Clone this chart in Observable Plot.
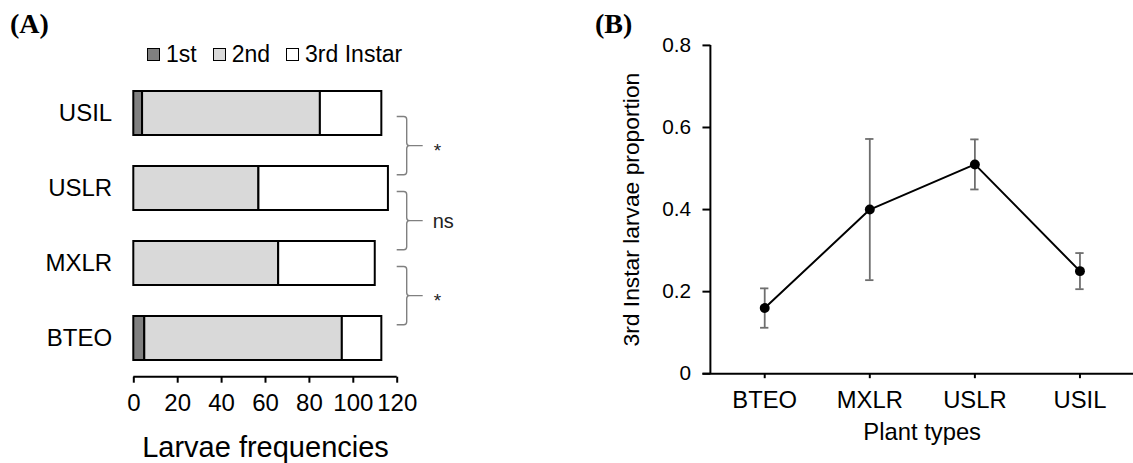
<!DOCTYPE html>
<html><head><meta charset="utf-8">
<script src="https://cdn.jsdelivr.net/npm/d3@7"></script>
<script src="https://cdn.jsdelivr.net/npm/@observablehq/plot@0.6"></script>
<style>
html,body{margin:0;padding:0;background:#fff;overflow:hidden}
#wrap{position:relative;width:1133px;height:463px;overflow:hidden;font-family:"Liberation Sans",Arial,sans-serif;color:#000}
.panel{position:absolute;top:0}
.tag{position:absolute;font-family:"Liberation Serif","Times New Roman",serif;font-weight:bold;font-size:28px;line-height:1}
#legend{position:absolute;left:147px;top:43px;display:flex;align-items:center;font-size:23px;line-height:1}
.item{display:flex;align-items:center;margin-right:16px}
.sw{width:11px;height:11px;border:1.3px solid #000;display:inline-block;margin-right:6px}
</style></head><body>
<div id="wrap">
  <div class="tag" style="left:10px;top:10px">(A)</div>
  <div class="tag" style="left:595px;top:10px">(B)</div>
  <div id="panelA" class="panel" style="left:0"></div>
  <div id="panelB" class="panel" style="left:560px"></div>
  <div id="legend"></div>
</div>
<script>
// ---------- Panel A data ----------
const plantsA = ["USIL", "USLR", "MXLR", "BTEO"];
const stages = ["1st", "2nd", "3rd Instar"];
const stageColors = ["#808080", "#d9d9d9", "#ffffff"];
const first = [4, 0, 0, 5];
const second = [81, 57, 66, 90];
const third = [28, 59, 44, 18];
const xTicksA = [0, 20, 40, 60, 80, 100, 120];
const brackets = [["USIL", "USLR", "*"], ["USLR", "MXLR", "ns"], ["MXLR", "BTEO", "*"]];

// ---------- Panel B data ----------
const plantsB = ["BTEO", "MXLR", "USLR", "USIL"];
const propB = [0.16, 0.40, 0.51, 0.25];
const seB = [0.048, 0.172, 0.061, 0.044];
const yTicksB = [0, 0.2, 0.4, 0.6, 0.8];

const FONT = '"Liberation Sans", Arial, sans-serif';

// legend
const legend = document.getElementById("legend");
stages.forEach((s, i) => {
  const it = document.createElement("div");
  it.className = "item";
  const sw = document.createElement("span");
  sw.className = "sw";
  sw.style.background = stageColors[i];
  it.appendChild(sw);
  it.appendChild(document.createTextNode(s));
  legend.appendChild(it);
});

const dataA = [];
plantsA.forEach((p, i) => {
  [first[i], second[i], third[i]].forEach((n, j) => dataA.push({plant: p, stage: stages[j], n}));
});

function xAxisLineA(index, scales) {
  const g = d3.create("svg:g");
  const [a, b] = scales.x.range();
  const r = scales.y.range();
  const yy = Math.max(r[0], r[1]);
  g.append("line").attr("x1", a).attr("x2", b).attr("y1", yy).attr("y2", yy)
    .attr("stroke", "#000").attr("stroke-width", 2);
  return g.node();
}

function bracesMark(index, scales) {
  const {x, y} = scales;
  const bw = y.bandwidth();
  const x0 = x.range()[1];
  const x1 = x0 + 10, x2 = x0 + 26;
  const g = d3.create("svg:g");
  brackets.forEach(([a, b, lab]) => {
    const yT = y(a) + 0.58 * bw;
    const yB = y(b) + 0.2 * bw;
    const yM = (yT + yB) / 2;
    const r = 3;
    const d = `M${x0},${yT} L${x1 - r},${yT} Q${x1},${yT} ${x1},${yT + r} L${x1},${yM - r} Q${x1},${yM} ${x1 + r},${yM} L${x2},${yM} M${x1 + r},${yM} Q${x1},${yM} ${x1},${yM + r} L${x1},${yB - r} Q${x1},${yB} ${x1 - r},${yB} L${x0},${yB}`;
    g.append("path").attr("d", d).attr("fill", "none").attr("stroke", "#808080").attr("stroke-width", 1.4);
    g.append("text")
      .attr("x", lab === "*" ? x0 + 37 : x0 + 36)
      .attr("y", yM + (lab === "*" ? 11 : 7))
      .attr("text-anchor", "start")
      .attr("font-size", lab === "*" ? 19 : 20).attr("fill", "#222")
      .attr("font-family", FONT).text(lab);
  });
  return g.node();
}

const plotA = Plot.plot({
  width: 470,
  height: 463,
  marginLeft: 133.3,
  marginRight: 73.3,
  marginTop: 74.3,
  marginBottom: 86.3,
  style: {fontFamily: FONT, fontSize: "23px", color: "#000", background: "transparent", overflow: "visible"},
  x: {domain: [0, 120]},
  y: {domain: plantsA, paddingInner: 0.42, paddingOuter: 0.21},
  color: {domain: stages, range: stageColors},
  marks: [
    Plot.barX(dataA, {x: "n", y: "plant", fill: "stage", stroke: "#000", strokeWidth: 2}),
    xAxisLineA,
    Plot.axisX({ticks: xTicksA, tickSize: 6, tickPadding: 11, strokeWidth: 2, fontSize: 24, label: null}),
    Plot.axisX({ticks: [], tickSize: 0, label: "Larvae frequencies", labelAnchor: "center", labelOffset: 80, labelArrow: "none", fontSize: 29, dx: 6}),
    Plot.axisY({tickSize: 0, tickPadding: 21.6, fontSize: 24, label: null}),
    bracesMark
  ]
});
document.getElementById("panelA").appendChild(plotA);

// ---------- Panel B ----------
const dataB = plantsB.map((p, i) => ({plant: p, prop: propB[i], lo: propB[i] - seB[i], hi: propB[i] + seB[i]}));

function yAxisLineB(index, scales) {
  const g = d3.create("svg:g");
  const xx = scales.x.range()[0];
  g.append("line").attr("x1", xx).attr("x2", xx)
    .attr("y1", scales.y(d3.max(yTicksB))).attr("y2", scales.y(0))
    .attr("stroke", "#000").attr("stroke-width", 2);
  return g.node();
}

const plotB = Plot.plot({
  width: 578,
  height: 463,
  marginLeft: 151.7,
  marginRight: 0,
  marginTop: 45.3,
  marginBottom: 86.5,
  style: {fontFamily: FONT, fontSize: "23px", color: "#000", background: "transparent", overflow: "visible"},
  x: {domain: plantsB, padding: 0},
  y: {domain: [0, 0.8]},
  marks: [
    Plot.ruleY([0], {stroke: "#000", strokeWidth: 2, insetLeft: -8}),
    yAxisLineB,
    Plot.axisY({ticks: yTicksB, tickSize: 8, tickPadding: 12, strokeWidth: 2, fontSize: 21,
      tickFormat: d => d === 0 ? "0" : d.toFixed(1), label: null}),
    Plot.axisY({ticks: [], tickSize: 0, label: "3rd Instar larvae proportion", labelAnchor: "center", labelOffset: 89, labelArrow: "none", fontSize: 23}),
    Plot.axisX({tickSize: 5, tickPadding: 13, strokeWidth: 2, fontSize: 24, label: "Plant types", labelAnchor: "center", labelOffset: 67}),
    Plot.ruleX(dataB, {x: "plant", y1: "lo", y2: "hi", stroke: "#6e6e6e", strokeWidth: 1.8}),
    Plot.tickY(dataB, {x: "plant", y: "lo", stroke: "#6e6e6e", strokeWidth: 1.8, insetLeft: 48.8, insetRight: 48.8}),
    Plot.tickY(dataB, {x: "plant", y: "hi", stroke: "#6e6e6e", strokeWidth: 1.8, insetLeft: 48.8, insetRight: 48.8}),
    Plot.line(dataB, {x: "plant", y: "prop", stroke: "#000", strokeWidth: 2}),
    Plot.dot(dataB, {x: "plant", y: "prop", r: 5, fill: "#000", stroke: "none"})
  ]
});
document.getElementById("panelB").appendChild(plotB);
</script>
</body></html>
